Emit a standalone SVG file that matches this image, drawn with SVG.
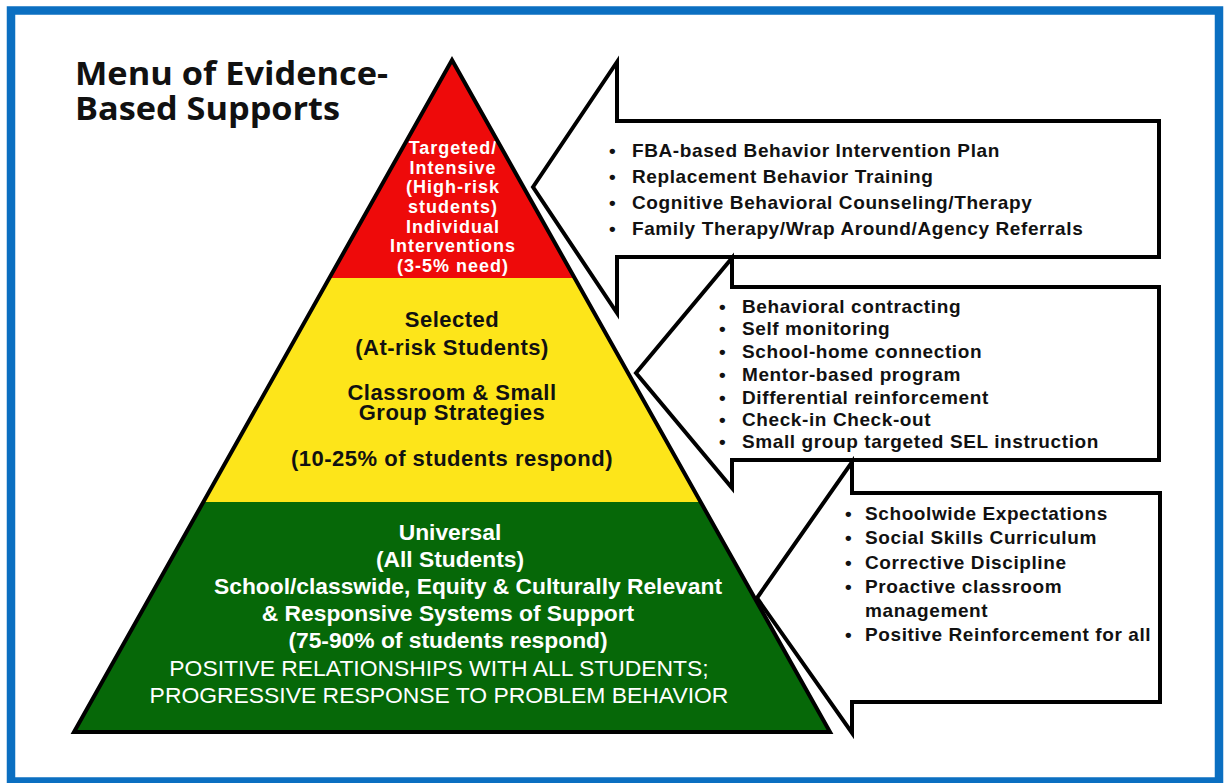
<svg xmlns="http://www.w3.org/2000/svg" width="1230" height="783" viewBox="0 0 1230 783">
  <style>
    .frame { fill: none; stroke: #0b6fc1; stroke-width: 8.5; }
    .title { font-family: "Open Sans", "Liberation Sans", sans-serif; font-weight: 700; font-size: 32.5px; fill: #111; }
    .outline { fill: none; stroke: #000; stroke-width: 4; stroke-linejoin: miter; }
    .t-red { font-family: "Liberation Sans", Arial, sans-serif; font-weight: 700; font-size: 18px; letter-spacing: 1px; fill: #fff; text-anchor: middle; }
    .t-yel { font-family: "Liberation Sans", Arial, sans-serif; font-weight: 700; font-size: 22px; letter-spacing: 0.5px; fill: #111; text-anchor: middle; }
    .t-grn { font-family: "Liberation Sans", Arial, sans-serif; font-weight: 700; font-size: 22.8px; fill: #fff; text-anchor: middle; }
    .t-grn-cap { font-family: "Liberation Sans", Arial, sans-serif; font-weight: 400; font-size: 22.9px; fill: #fff; text-anchor: middle; }
    .callout { fill: #fff; stroke: #000; stroke-width: 4; stroke-linejoin: miter; }
    .item { font-family: "Liberation Sans", Arial, sans-serif; font-weight: 700; font-size: 19px; letter-spacing: 0.6px; fill: #111; }
  </style>

  <rect width="1230" height="783" fill="#fff"/>
  <rect class="frame" x="11" y="10.5" width="1208" height="771"/>

  <g id="title">
    <text class="title" x="75" y="85" textLength="313" lengthAdjust="spacingAndGlyphs">Menu of Evidence-</text>
    <text class="title" x="75" y="120" textLength="265" lengthAdjust="spacingAndGlyphs">Based Supports</text>
  </g>

  <!-- Pyramid tiers -->
  <g id="tier-targeted">
    <polygon points="452,60 574.6,278 329.4,278" fill="#ee0a0a"/>
    <text class="t-red" x="453" y="154">Targeted/</text>
    <text class="t-red" x="453" y="174">Intensive</text>
    <text class="t-red" x="453" y="193">(High-risk</text>
    <text class="t-red" x="453" y="213">students)</text>
    <text class="t-red" x="453" y="233">Individual</text>
    <text class="t-red" x="453" y="252">Interventions</text>
    <text class="t-red" x="453" y="272">(3-5% need)</text>
  </g>

  <g id="tier-selected">
    <polygon points="329.4,278 574.6,278 700.6,502 203.4,502" fill="#fde51a"/>
    <text class="t-yel" x="452" y="327">Selected</text>
    <text class="t-yel" x="452" y="355">(At-risk Students)</text>
    <text class="t-yel" x="452" y="400">Classroom &amp; Small</text>
    <text class="t-yel" x="452" y="420">Group Strategies</text>
    <text class="t-yel" x="452" y="466">(10-25% of students respond)</text>
  </g>

  <g id="tier-universal">
    <polygon points="203.4,502 700.6,502 830,732 74,732" fill="#066808"/>
    <text class="t-grn" x="450" y="540">Universal</text>
    <text class="t-grn" x="450" y="567">(All Students)</text>
    <text class="t-grn" x="468" y="594">School/classwide, Equity &amp; Culturally Relevant</text>
    <text class="t-grn" x="448" y="621">&amp; Responsive Systems of Support</text>
    <text class="t-grn" x="448" y="648">(75-90% of students respond)</text>
    <text class="t-grn-cap" x="439" y="676">POSITIVE RELATIONSHIPS WITH ALL STUDENTS;</text>
    <text class="t-grn-cap" x="439" y="703">PROGRESSIVE RESPONSE TO PROBLEM BEHAVIOR</text>
  </g>

  <polygon id="pyramid-outline" class="outline" points="452,60 830,732 74,732"/>

  <!-- Callout arrows pointing back at each tier -->
  <g id="callouts">
    <g id="callout-targeted">
      <polygon class="callout" points="533,187 617,62 617,121 1159,121 1159,257 617,257 617,313"/>
      <text class="item" x="609" y="157">•</text>
      <text class="item" x="632" y="157">FBA-based Behavior Intervention Plan</text>
      <text class="item" x="609" y="183">•</text>
      <text class="item" x="632" y="183">Replacement Behavior Training</text>
      <text class="item" x="609" y="209">•</text>
      <text class="item" x="632" y="209">Cognitive Behavioral Counseling/Therapy</text>
      <text class="item" x="609" y="235">•</text>
      <text class="item" x="632" y="235">Family Therapy/Wrap Around/Agency Referrals</text>
    </g>

    <g id="callout-selected">
      <polygon class="callout" points="636,373 732,258 732,287 1159,287 1159,460 732,460 732,488"/>
      <text class="item" x="719" y="313">•</text>
      <text class="item" x="742" y="313">Behavioral contracting</text>
      <text class="item" x="719" y="335">•</text>
      <text class="item" x="742" y="335">Self monitoring</text>
      <text class="item" x="719" y="358">•</text>
      <text class="item" x="742" y="358">School-home connection</text>
      <text class="item" x="719" y="381">•</text>
      <text class="item" x="742" y="381">Mentor-based program</text>
      <text class="item" x="719" y="404">•</text>
      <text class="item" x="742" y="404">Differential reinforcement</text>
      <text class="item" x="719" y="426">•</text>
      <text class="item" x="742" y="426">Check-in Check-out</text>
      <text class="item" x="719" y="448">•</text>
      <text class="item" x="742" y="448">Small group targeted SEL instruction</text>
    </g>

    <g id="callout-universal">
      <polygon class="callout" points="757,598 852,462 852,493 1160,493 1160,702 852,702 852,733"/>
      <text class="item" x="845" y="520">•</text>
      <text class="item" x="865" y="520">Schoolwide Expectations</text>
      <text class="item" x="845" y="544">•</text>
      <text class="item" x="865" y="544">Social Skills Curriculum</text>
      <text class="item" x="845" y="569">•</text>
      <text class="item" x="865" y="569">Corrective Discipline</text>
      <text class="item" x="845" y="593">•</text>
      <text class="item" x="865" y="593">Proactive classroom</text>
      <text class="item" x="865" y="617">management</text>
      <text class="item" x="845" y="641">•</text>
      <text class="item" x="865" y="641">Positive Reinforcement for all</text>
    </g>
  </g>
</svg>
